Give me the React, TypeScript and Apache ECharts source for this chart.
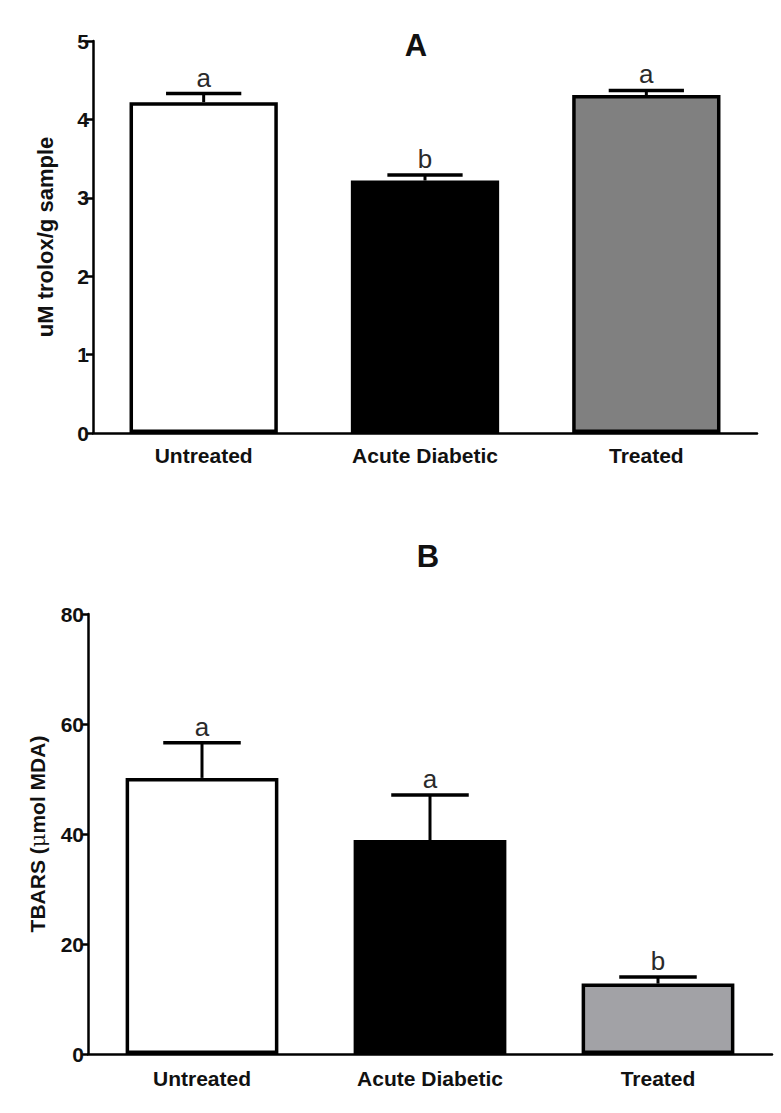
import React, { useEffect, useRef } from "react";
import * as echarts from "echarts";

const categories = ["Untreated", "Acute Diabetic", "Treated"];

const valuesA = [4.22, 3.22, 4.31];
const errTopA = [4.33, 3.29, 4.37];
const lettersA = ["a", "b", "a"];
const colorsA = ["#ffffff", "#000000", "#808080"];
const ticksA = { min: 0, max: 5, interval: 1 };

const valuesB = [50.2, 38.9, 12.8];
const errTopB = [56.6, 47.1, 14.0];
const lettersB = ["a", "a", "b"];
const colorsB = ["#ffffff", "#000000", "#a2a2a6"];
const ticksB = { min: 0, max: 80, interval: 20 };

const FONT = "Liberation Sans, Arial, sans-serif";

export default function App() {
  const ref = useRef<HTMLDivElement>(null);

  useEffect(() => {
    if (!ref.current) return;
    const chart = echarts.init(ref.current, undefined, { renderer: "svg" });

    const errRender = (capFrac: number) => (params: any, api: any) => {
      const base = api.coord([api.value(0), api.value(1)]);
      const top = api.coord([api.value(0), api.value(2)]);
      const catW = api.size([1, 0])[0];
      const half = (catW * capFrac) / 2;
      return {
        type: "group",
        children: [
          {
            type: "line",
            shape: { x1: base[0], y1: base[1], x2: top[0], y2: top[1] },
            style: { stroke: "#000", lineWidth: 3 },
          },
          {
            type: "line",
            shape: { x1: top[0] - half, y1: top[1], x2: top[0] + half, y2: top[1] },
            style: { stroke: "#000", lineWidth: 3.5 },
          },
          {
            type: "text",
            x: top[0],
            y: top[1] - 3,
            style: {
              text: api.value(3),
              fontFamily: FONT,
              fontSize: 26,
              fill: "#2a2a2a",
              align: "center",
              verticalAlign: "bottom",
            },
          },
        ],
      };
    };

    const axisCommon = {
      axisLine: { lineStyle: { color: "#000", width: 2.5 } },
      axisTick: { lineStyle: { color: "#000", width: 2.5 }, length: 7 },
      axisLabel: { color: "#111", fontFamily: FONT, fontWeight: "bold", fontSize: 21 },
      splitLine: { show: false },
    };

    chart.setOption({
      animation: false,
      backgroundColor: "#ffffff",
      graphic: [
        {
          type: "text",
          x: 416,
          y: 45,
          style: {
            text: "A",
            fontFamily: FONT,
            fontWeight: "bold",
            fontSize: 31,
            fill: "#111",
            align: "center",
            verticalAlign: "middle",
          },
        },
        {
          type: "text",
          x: 428,
          y: 556,
          style: {
            text: "B",
            fontFamily: FONT,
            fontWeight: "bold",
            fontSize: 31,
            fill: "#111",
            align: "center",
            verticalAlign: "middle",
          },
        },
      ],
      grid: [
        { left: 93, right: 24, top: 41, bottom: 680 },
        { left: 88, right: 9, top: 614, bottom: 59 },
      ],
      xAxis: [
        {
          type: "category",
          gridIndex: 0,
          data: categories,
          ...axisCommon,
          axisTick: { ...axisCommon.axisTick, alignWithLabel: true },
          axisLabel: { ...axisCommon.axisLabel, margin: 12 },
        },
        {
          type: "category",
          gridIndex: 1,
          data: categories,
          ...axisCommon,
          axisTick: { ...axisCommon.axisTick, alignWithLabel: true },
          axisLabel: { ...axisCommon.axisLabel, margin: 14 },
        },
      ],
      yAxis: [
        {
          type: "value",
          gridIndex: 0,
          ...ticksA,
          ...axisCommon,
          axisLine: { show: true, lineStyle: { color: "#000", width: 2.5 } },
          axisTick: { show: true, lineStyle: { color: "#000", width: 2.5 }, length: 7 },
          axisLabel: { ...axisCommon.axisLabel, margin: 4 },
          name: "uM trolox/g sample",
          nameLocation: "middle",
          nameGap: 37,
          nameTextStyle: { color: "#111", fontFamily: FONT, fontWeight: "bold", fontSize: 22 },
        },
        {
          type: "value",
          gridIndex: 1,
          ...ticksB,
          ...axisCommon,
          axisLine: { show: true, lineStyle: { color: "#000", width: 2.5 } },
          axisTick: { show: true, lineStyle: { color: "#000", width: 2.5 }, length: 7 },
          axisLabel: { ...axisCommon.axisLabel, margin: 4 },
          name: "{b|TBARS (}{m|μ}{b|mol MDA)}",
          nameLocation: "middle",
          nameGap: 40,
          nameTextStyle: {
            rich: {
              b: { color: "#111", fontFamily: FONT, fontWeight: "bold", fontSize: 21 },
              m: { color: "#111", fontFamily: "DejaVu Serif, serif", fontWeight: "normal", fontSize: 21 },
            },
          },
        },
      ],
      series: [
        {
          type: "bar",
          xAxisIndex: 0,
          yAxisIndex: 0,
          barWidth: "67%",
          data: valuesA.map((v, i) => ({
            value: v,
            itemStyle: { color: colorsA[i], borderColor: "#000", borderWidth: 3.5 },
          })),
        },
        {
          type: "custom",
          xAxisIndex: 0,
          yAxisIndex: 0,
          z: 5,
          renderItem: errRender(0.34),
          data: valuesA.map((v, i) => [i, v, errTopA[i], lettersA[i]]),
        },
        {
          type: "bar",
          xAxisIndex: 1,
          yAxisIndex: 1,
          barWidth: "67%",
          data: valuesB.map((v, i) => ({
            value: v,
            itemStyle: { color: colorsB[i], borderColor: "#000", borderWidth: 3.5 },
          })),
        },
        {
          type: "custom",
          xAxisIndex: 1,
          yAxisIndex: 1,
          z: 5,
          renderItem: errRender(0.34),
          data: valuesB.map((v, i) => [i, v, errTopB[i], lettersB[i]]),
        },
      ],
    });

    return () => chart.dispose();
  }, []);

  return (
    <div
      ref={ref}
      style={{ position: "absolute", left: 0, top: 0, width: 781, height: 1113, background: "#fff" }}
    />
  );
}
